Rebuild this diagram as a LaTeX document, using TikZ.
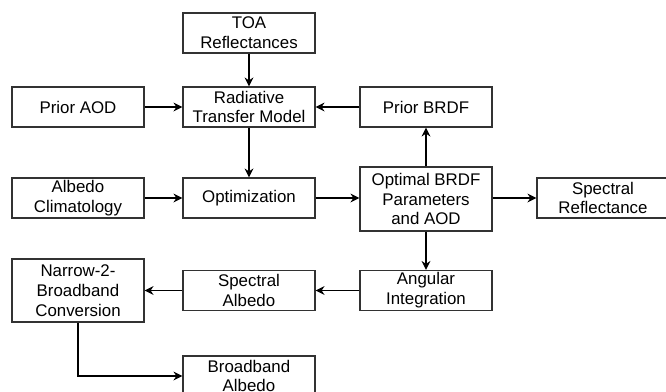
\documentclass[tikz,border=0pt]{standalone}
\usepackage{fontspec}
\setmainfont{Liberation Sans}
\usepackage{tikz}
\usetikzlibrary{positioning, arrows.meta}
\definecolor{BoxLine}{RGB}{50,50,50}

\begin{document}
\begin{tikzpicture}[x=0.02cm, y=-0.02cm,
            box/.style={rectangle, draw=BoxLine, line width=0.8pt, fill=white,
                        minimum width=2.64cm, minimum height=0.8cm, inner sep=1pt,
                        align=center, font=\fontsize{9.6}{11.3}\selectfont},
            flow/.style={-{Stealth[length=5pt, width=5pt]}, line width=1.1pt, black}
          ]
          \useasboundingbox (0,0) rectangle (666,392);
          \clip (0,0) rectangle (666,392);
          % boxes, placed by pixel centre
          \node[box] (toa)   at (249, 33)  {TOA\\Reflectances};
          \node[box] (aod)   at (78, 107)  {Prior AOD};
          \node[box] (rtm)   at (249, 107) {Radiative\\Transfer Model};
          \node[box] (pbrdf) at (426, 107) {Prior BRDF};
          \node[box] (clim)  at (78, 198)  {Albedo\\Climatology};
          \node[box] (opt)   at (249, 198) {Optimization};
          \node[box, minimum height=1.28cm] (obrdf) at (426, 199)
                {Optimal BRDF\\Parameters\\and AOD};
          \node[box] (srefl) at (603, 198) {Spectral\\Reflectance};
          \node[box, minimum height=1.26cm] (n2b) at (78, 290.5)
                {Narrow-2-\\Broadband\\Conversion};
          \node[box] (salb)  at (249, 290.5) {Spectral\\Albedo};
          \node[box] (ang)   at (426, 290.5) {Angular\\Integration};
          \node[box] (bb)    at (249, 376) {Broadband\\Albedo};
          % connectors
          \draw[flow] (toa) -- (rtm);
          \draw[flow] (aod) -- (rtm);
          \draw[flow] (pbrdf) -- (rtm);
          \draw[flow] (rtm) -- (opt);
          \draw[flow] (clim) -- (opt);
          \draw[flow] (opt) -- (opt -| obrdf.west);
          \draw[flow] (obrdf) -- (pbrdf);
          \draw[flow] (obrdf.east |- srefl) -- (srefl);
          \draw[flow] (obrdf) -- (ang);
          \draw[flow] (ang) -- (salb);
          \draw[flow] (salb) -- (n2b);
          \draw[flow] (n2b.south) |- (bb.west);
        \end{tikzpicture}
\end{document}
